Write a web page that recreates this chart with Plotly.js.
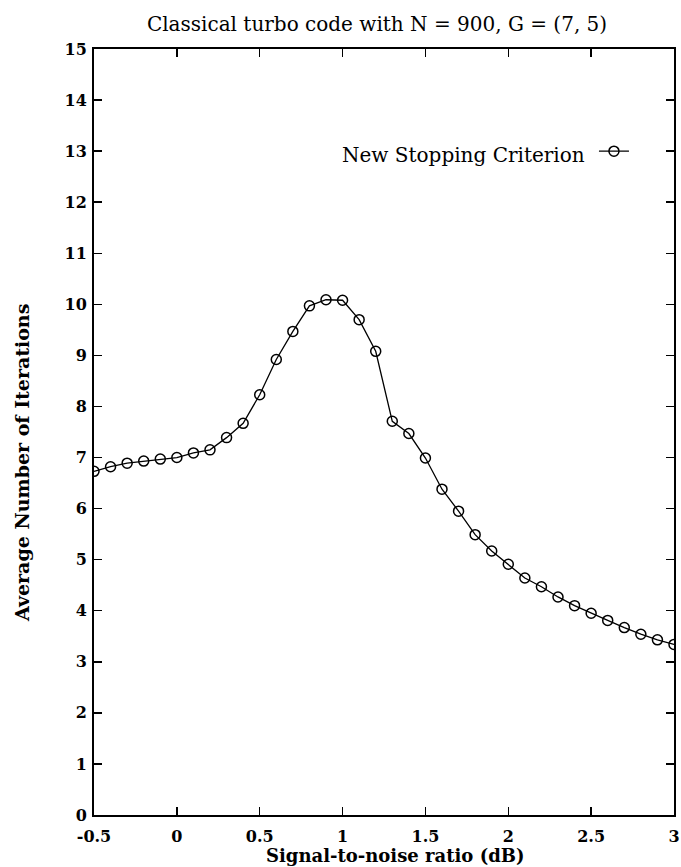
<!DOCTYPE html>
<html>
<head>
<meta charset="utf-8">
<script src="https://cdn.plot.ly/plotly-3.0.1.min.js"></script>
<style>html,body{margin:0;padding:0;background:#fff;}#chart{width:681px;height:867px;}</style>
</head>
<body>
<div id="chart"></div>
<script>
const snr = [-0.5,-0.4,-0.3,-0.2,-0.1,0,0.1,0.2,0.3,0.4,0.5,0.6,0.7,0.8,0.9,1.0,1.1,1.2,1.3,1.4,1.5,1.6,1.7,1.8,1.9,2.0,2.1,2.2,2.3,2.4,2.5,2.6,2.7,2.8,2.9,3.0];
const avgIterations = [6.73,6.82,6.89,6.93,6.97,7.0,7.09,7.15,7.39,7.67,8.23,8.92,9.47,9.97,10.09,10.08,9.70,9.08,7.71,7.47,6.99,6.38,5.95,5.49,5.17,4.91,4.64,4.47,4.27,4.10,3.95,3.81,3.67,3.54,3.43,3.34];
const seriesName = "New Stopping Criterion";
const chartTitle = "Classical turbo code with N = 900, G = (7, 5)";
const xTitle = "Signal-to-noise ratio (dB)";
const yTitle = "Average Number of Iterations";
const xTicks = [-0.5,0,0.5,1,1.5,2,2.5,3];
const xTickText = ["-0.5","0","0.5","1","1.5","2","2.5","3"];
const yTicks = [0,1,2,3,4,5,6,7,8,9,10,11,12,13,14,15];

const serif = "DejaVu Serif, Liberation Serif, serif";

const trace = {
  x: snr, y: avgIterations, type: "scatter", mode: "lines+markers",
  name: " ",
  line: {color: "#000", width: 1.3},
  marker: {symbol: "circle-open", size: 10, color: "#000", line: {width: 1.5, color: "#000"}},
  showlegend: true
};

const axisCommon = {
  ticks: "inside", ticklen: 8, tickwidth: 1.5, tickcolor: "#000",
  showline: true, linewidth: 2, linecolor: "#000", mirror: "ticks",
  showgrid: false, zeroline: false,
  tickfont: {family: serif, size: 16, weight: "bold", color: "#000"}
};

const layout = {
  width: 681, height: 867,
  margin: {l: 94, r: 7, t: 49, b: 52},
  paper_bgcolor: "#fff", plot_bgcolor: "#fff",
  font: {family: serif, color: "#000"},
  title: {text: chartTitle, font: {family: serif, size: 20, color: "#000"},
          x: 0.488, xref: "paper", xanchor: "center", y: 1 - 24/867, yref: "container", yanchor: "middle"},
  xaxis: Object.assign({range: [-0.5, 3], tickvals: xTicks, ticktext: xTickText, ticklabelstandoff: 6}, axisCommon),
  yaxis: Object.assign({range: [0, 15], tickvals: yTicks, ticklabelstandoff: 2}, axisCommon),
  legend: {x: 0.862, y: 13 / 15, xanchor: "left", yanchor: "middle", bgcolor: "rgba(0,0,0,0)",
           font: {family: serif, size: 20, color: "#000"}},
  annotations: [
    {text: seriesName, xref: "paper", yref: "y", x: (587 - 94) / 580, y: 12.92, xanchor: "right", yanchor: "middle",
     showarrow: false, font: {family: serif, size: 20, color: "#000"}},
    {text: xTitle, xref: "paper", yref: "paper", x: 0.519, y: -40 / 766, xanchor: "center", yanchor: "middle",
     showarrow: false, font: {family: serif, size: 18, weight: "bold", color: "#000"}},
    {text: yTitle, xref: "paper", yref: "paper", x: -72 / 580, y: 0.4595, xanchor: "center", yanchor: "middle",
     textangle: -90, showarrow: false, font: {family: serif, size: 19, weight: "bold", color: "#000"}}
  ]
};

Plotly.newPlot("chart", [trace], layout, {displayModeBar: false, staticPlot: true});
</script>
</body>
</html>
